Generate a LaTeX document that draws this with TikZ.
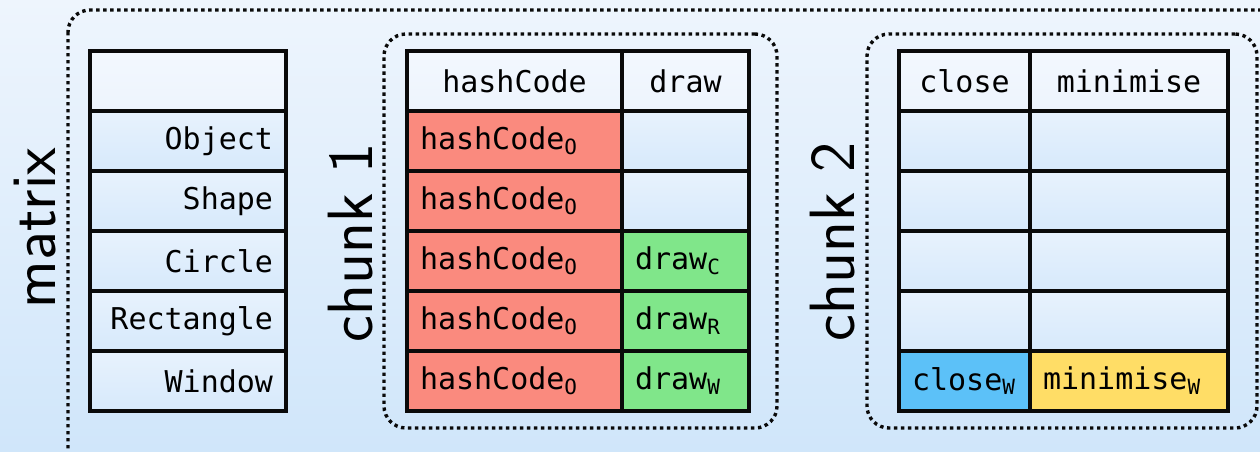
\documentclass[tikz,border=0pt]{standalone}
\usepackage{fontspec}
\setmonofont{DejaVu Sans Mono}
\definecolor{bgtop}{HTML}{EEF5FD}
\definecolor{bgbot}{HTML}{D0E6FA}
\definecolor{celltop}{HTML}{E8F2FD}
\definecolor{cellbot}{HTML}{D6E9FB}
\definecolor{headtop}{HTML}{F3F8FE}
\definecolor{headbot}{HTML}{EDF4FD}
\definecolor{redc}{HTML}{FA8A7E}
\definecolor{greenc}{HTML}{80E68A}
\definecolor{bluec}{HTML}{5CC1F8}
\definecolor{yellowc}{HTML}{FFDD66}
\definecolor{ink}{HTML}{0A0A0A}
\newcommand{\subtt}[1]{\raisebox{-0.3ex}{\fontsize{21}{21}\selectfont #1}}
\tikzset{
  cell/.style={draw=ink, line width=3.4pt, minimum height=60pt, inner ysep=0pt, inner xsep=13pt,
    font=\ttfamily\fontsize{30}{30}\selectfont},
  bodycell/.style={cell, top color=celltop, bottom color=cellbot},
  headcell/.style={cell, top color=headtop, bottom color=headbot, align=center},
  redcell/.style={cell, fill=redc, align=left},
  greencell/.style={cell, fill=greenc, align=left},
  group/.style={draw=ink, line width=3.4pt, dash pattern=on 3.4pt off 3.6pt, rounded corners=22pt},
  biglabel/.style={font=\sffamily\fontsize{64}{64}\selectfont, rotate=90, anchor=base, inner sep=0pt}
}
\begin{document}
\begin{tikzpicture}[x=1pt,y=-1pt]
\useasboundingbox (0,0) rectangle (1260,451);
\clip (0,0) rectangle (1260,451);
\shade[top color=bgtop, bottom color=bgbot] (0,0) rectangle (1260,451);
% outer group
\draw[group] (68,10) rectangle (1320,500);
% group boxes
\node[group, minimum width=393pt, minimum height=394pt, inner sep=0pt] (g1) at (580.5,231) {};
\node[group, minimum width=390pt, minimum height=394pt, inner sep=0pt] (g2) at (1062,231) {};
% labels
\node[biglabel] (lm) at (55,228) {matrix};
\node[biglabel] (l1) at (372,243) {chunk 1};
\node[biglabel] (l2) at (854,242) {chunk 2};
% matrix column
\node[headcell, text width=170pt] (m0) at (188,81) {};
\node[bodycell, text width=170pt, align=right] (m1) at (188,141) {Object};
\node[bodycell, text width=170pt, align=right] (m2) at (188,201) {Shape};
\node[bodycell, text width=170pt, align=right] (m3) at (188,261) {Circle};
\node[bodycell, text width=170pt, align=right] (m4) at (188,321) {Rectangle};
\node[bodycell, text width=170pt, align=right] (m5) at (188,381) {Window};
% chunk 1
\node[headcell, text width=189pt] (a0) at (514.5,81) {hashCode};
\node[headcell, text width=101pt] (b0) at (685.5,81) {draw};
\node[redcell, text width=189pt] (a1) at (514.5,141) {hashCode\subtt{O}};
\node[redcell, text width=189pt] (a2) at (514.5,201) {hashCode\subtt{O}};
\node[redcell, text width=189pt] (a3) at (514.5,261) {hashCode\subtt{O}};
\node[redcell, text width=189pt] (a4) at (514.5,321) {hashCode\subtt{O}};
\node[redcell, text width=189pt] (a5) at (514.5,381) {hashCode\subtt{O}};
\node[bodycell, text width=101pt] (b1) at (685.5,141) {};
\node[bodycell, text width=101pt] (b2) at (685.5,201) {};
\node[greencell, text width=101pt] (b3) at (685.5,261) {draw\subtt{C}};
\node[greencell, text width=101pt] (b4) at (685.5,321) {draw\subtt{R}};
\node[greencell, text width=101pt] (b5) at (685.5,381) {draw\subtt{W}};
% chunk 2
\node[headcell, text width=105pt] (c0) at (964.5,81) {close};
\node[headcell, text width=172pt] (d0) at (1129,81) {minimise};
\node[bodycell, text width=105pt] (c1) at (964.5,141) {};
\node[bodycell, text width=105pt] (c2) at (964.5,201) {};
\node[bodycell, text width=105pt] (c3) at (964.5,261) {};
\node[bodycell, text width=105pt] (c4) at (964.5,321) {};
\node[cell, fill=bluec, text width=105pt, align=left] (c5) at (964.5,381) {close\subtt{W}};
\node[bodycell, text width=172pt] (d1) at (1129,141) {};
\node[bodycell, text width=172pt] (d2) at (1129,201) {};
\node[bodycell, text width=172pt] (d3) at (1129,261) {};
\node[bodycell, text width=172pt] (d4) at (1129,321) {};
\node[cell, fill=yellowc, text width=172pt, align=left] (d5) at (1129,381) {minimise\subtt{W}};
\end{tikzpicture}
\end{document}
